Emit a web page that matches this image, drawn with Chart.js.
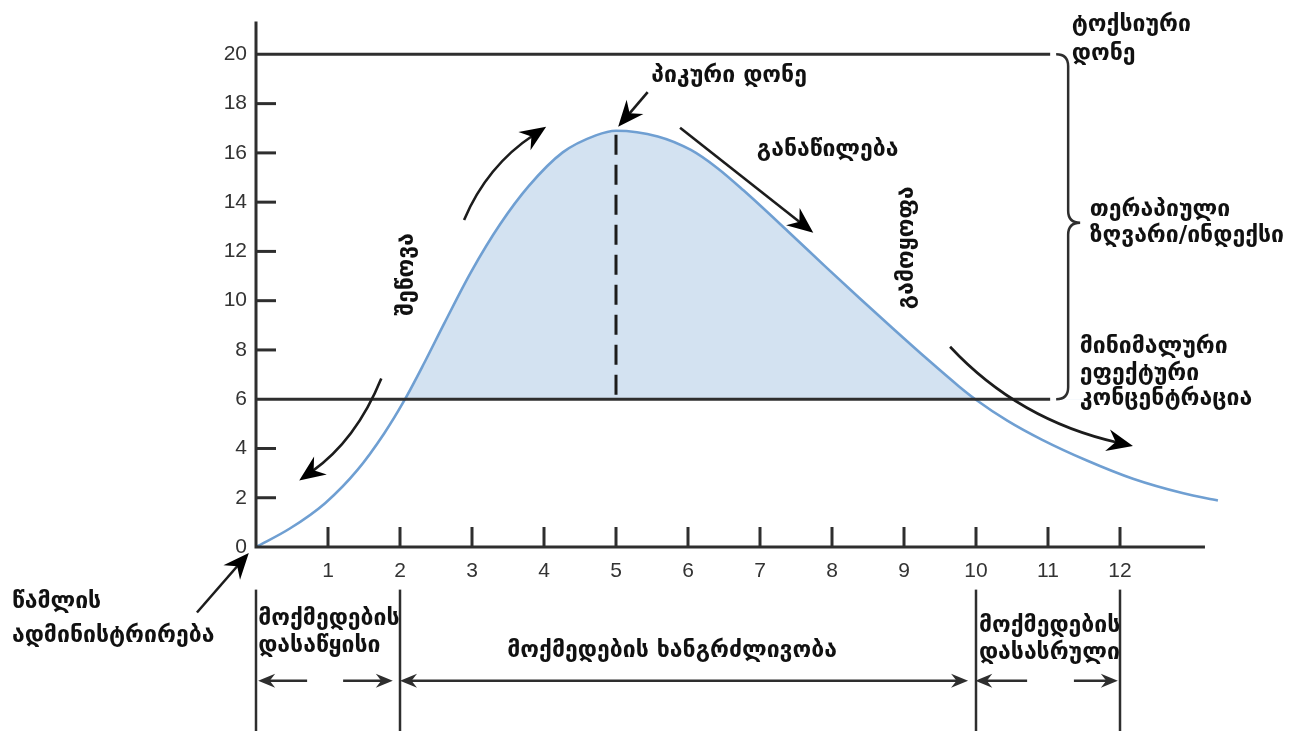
<!DOCTYPE html>
<html>
<head>
<meta charset="utf-8">
<script src="https://cdn.jsdelivr.net/npm/chart.js@4/dist/chart.umd.min.js"></script>
<style>
  html, body { margin: 0; padding: 0; background: #ffffff; }
  #wrap { width: 1300px; height: 731px; }
</style>
</head>
<body>
<div id="wrap"><canvas id="c" width="1300" height="731"></canvas></div>
<script>
// Plasma concentration after a single dose (time in hours)
const timeHours = [0, 0.47, 0.96, 1.41, 1.78, 2.06, 2.34, 2.62, 2.99, 3.39, 3.79, 4.26, 4.72, 5.0,
  5.58, 6.04, 6.41, 6.77, 7.39, 7.92, 8.38, 8.85, 9.31, 9.76, 9.99, 10.44, 10.92, 11.54, 12.18, 12.88, 13.36];
const concentration = [0, 0.75, 1.78, 3.13, 4.61, 5.95, 7.49, 9.11, 11.18, 13.1, 14.66, 16.02, 16.71, 16.9,
  16.67, 16.12, 15.38, 14.48, 12.81, 11.35, 10.11, 8.86, 7.66, 6.53, 6.0, 5.12, 4.35, 3.51, 2.77, 2.18, 1.89];

const concTicks = [0, 2, 4, 6, 8, 10, 12, 14, 16, 18, 20];
const timeTicks = [1, 2, 3, 4, 5, 6, 7, 8, 9, 10, 11, 12];

const toxicLevel = 20;      // ტოქსიური დონე
const mecLevel = 6;         // მინიმალური ეფექტური კონცენტრაცია
const peakTime = 5;
const peakLevel = 16.9;
const onsetStart = 0, onsetEnd = 2, durationEnd = 10, actionEnd = 12;

const INK = '#1c1c1c';
const AXIS = '#2e2e2e';
const GEO_FONT = 'bold 23px "DejaVu Sans"';

// Annotation geometry, in data units of the two axes
const xAxisEnd = 13.18;
const levelLineEnd = 11.03;
const braceX = 11.28;
const braceTip = 13.16;
const bracketTop = -1.73, bracketBottom = -7.6, spanY = -5.43;

const curvedArrows = [
  { s: [1.74, 6.84], c: [1.39, 4.33], e: [0.6, 2.7] },          // შეწოვა, down
  { s: [2.89, 13.28], c: [3.21, 15.48], e: [4.03, 17.06] },     // შეწოვა, up
  { s: [5.44, 18.47], e: [5.03, 17.06] },                       // პიკური დონე
  { s: [5.89, 17.02], e: [7.74, 12.76] },                       // განაწილება
  { s: [9.64, 8.13], c: [10.59, 5.15], e: [12.18, 4.1] },       // გამოყოფა
  { s: [-0.82, -2.66], e: [-0.1, -0.24] }                       // წამლის ადმინისტრირება
];

const spanArrows = [
  { from: 0.71, to: 0.03 },
  { from: 1.21, to: 1.9 },
  { from: 2.0, to: 9.89, both: true },
  { from: 10.71, to: 9.99 },
  { from: 11.36, to: 11.97 }
];

const labels = [
  { t: 'ტოქსიური', x: 11.33, y: 21.2, a: 'left' },
  { t: 'დონე', x: 11.33, y: 20.0, a: 'left' },
  { t: 'პიკური დონე', x: 6.57, y: 19.11, a: 'center' },
  { t: 'განაწილება', x: 7.94, y: 16.1, a: 'center' },
  { t: 'თერაპიული', x: 11.58, y: 13.68, a: 'left' },
  { t: 'ზღვარი/ინდექსი', x: 11.58, y: 12.64, a: 'left' },
  { t: 'მინიმალური', x: 11.44, y: 8.13, a: 'left' },
  { t: 'ეფექტური', x: 11.44, y: 7.04, a: 'left' },
  { t: 'კონცენტრაცია', x: 11.44, y: 6.0, a: 'left' },
  { t: 'შეწოვა', x: 2.1, y: 11.07, a: 'center', rot: true },
  { t: 'გამოყოფა', x: 9.04, y: 12.15, a: 'center', rot: true },
  { t: 'წამლის', x: -3.39, y: -2.25, a: 'left' },
  { t: 'ადმინისტრირება', x: -3.39, y: -3.62, a: 'left' },
  { t: 'მოქმედების', x: 0.03, y: -2.94, a: 'left' },
  { t: 'დასაწყისი', x: 0.03, y: -4.02, a: 'left' },
  { t: 'მოქმედების ხანგრძლივობა', x: 5.78, y: -4.23, a: 'center' },
  { t: 'მოქმედების', x: 10.04, y: -3.22, a: 'left' },
  { t: 'დასასრული', x: 10.04, y: -4.31, a: 'left' }
];

function arrowHead(ctx, tx, ty, ang, len, half) {
  ctx.save();
  ctx.translate(tx, ty);
  ctx.rotate(ang);
  ctx.beginPath();
  ctx.moveTo(0, 0);
  ctx.lineTo(-len, -half);
  ctx.lineTo(-len * 0.68, 0);
  ctx.lineTo(-len, half);
  ctx.closePath();
  ctx.fill();
  ctx.restore();
}

const diagramPlugin = {
  id: 'diagram',
  afterDatasetsDraw(chart) {
    const { ctx, scales: { x, y } } = chart;
    const X = v => x.getPixelForValue(v);
    const Y = v => y.getPixelForValue(v);
    const x0 = X(0), y0 = Y(0);

    ctx.save();
    ctx.lineCap = 'butt';

    // toxic and minimum effective levels
    ctx.strokeStyle = AXIS;
    ctx.lineWidth = 3;
    [toxicLevel, mecLevel].forEach(v => {
      ctx.beginPath();
      ctx.moveTo(x0, Y(v));
      ctx.lineTo(X(levelLineEnd), Y(v));
      ctx.stroke();
    });

    // axes
    ctx.beginPath();
    ctx.moveTo(x0, y.top);
    ctx.lineTo(x0, y0);
    ctx.lineTo(X(xAxisEnd), y0);
    ctx.stroke();

    // inward tick marks
    ctx.lineWidth = 3;
    concTicks.forEach(v => {
      if (v === 0 || v === toxicLevel || v === mecLevel) return;
      ctx.beginPath();
      ctx.moveTo(x0, Y(v));
      ctx.lineTo(x0 + 20, Y(v));
      ctx.stroke();
    });
    timeTicks.forEach(v => {
      ctx.beginPath();
      ctx.moveTo(X(v), y0);
      ctx.lineTo(X(v), y0 - 20);
      ctx.stroke();
    });

    // peak marker
    ctx.strokeStyle = INK;
    ctx.lineWidth = 3;
    ctx.setLineDash([20, 10]);
    ctx.beginPath();
    ctx.moveTo(X(peakTime), Y(peakLevel) + 4);
    ctx.lineTo(X(peakTime), Y(mecLevel));
    ctx.stroke();
    ctx.setLineDash([]);

    // brace spanning the therapeutic window
    const bx = X(braceX), top = Y(toxicLevel), bot = Y(mecLevel), mid = Y(braceTip);
    ctx.strokeStyle = AXIS;
    ctx.lineWidth = 2.5;
    ctx.beginPath();
    ctx.moveTo(bx - 12, top);
    ctx.quadraticCurveTo(bx, top, bx, top + 12);
    ctx.lineTo(bx, mid - 12);
    ctx.quadraticCurveTo(bx, mid, bx + 12, mid);
    ctx.quadraticCurveTo(bx, mid, bx, mid + 12);
    ctx.lineTo(bx, bot - 12);
    ctx.quadraticCurveTo(bx, bot, bx - 12, bot);
    ctx.stroke();

    // process arrows
    ctx.strokeStyle = INK;
    ctx.fillStyle = '#000';
    ctx.lineWidth = 2.6;
    curvedArrows.forEach(a => {
      const sx = X(a.s[0]), sy = Y(a.s[1]), ex = X(a.e[0]), ey = Y(a.e[1]);
      const cx = a.c ? X(a.c[0]) : (sx + ex) / 2, cy = a.c ? Y(a.c[1]) : (sy + ey) / 2;
      const ang = Math.atan2(ey - cy, ex - cx);
      const back = 15;
      const lx = ex - Math.cos(ang) * back, ly = ey - Math.sin(ang) * back;
      ctx.beginPath();
      ctx.moveTo(sx, sy);
      if (a.c) ctx.quadraticCurveTo(cx, cy, lx, ly); else ctx.lineTo(lx, ly);
      ctx.stroke();
      arrowHead(ctx, ex, ey, ang, 26, 11);
    });

    // bracket lines under the time axis
    ctx.strokeStyle = AXIS;
    ctx.lineWidth = 2.5;
    [onsetStart, onsetEnd, durationEnd, actionEnd].forEach(v => {
      ctx.beginPath();
      ctx.moveTo(X(v), Y(bracketTop));
      ctx.lineTo(X(v), Y(bracketBottom));
      ctx.stroke();
    });

    // phase span arrows
    const sy = Y(spanY);
    ctx.fillStyle = AXIS;
    ctx.lineWidth = 2.5;
    spanArrows.forEach(a => {
      const fx = X(a.from), tx = X(a.to);
      const dir = Math.sign(tx - fx);
      ctx.beginPath();
      ctx.moveTo(a.both ? fx + dir * 8 : fx, sy);
      ctx.lineTo(tx - dir * 8, sy);
      ctx.stroke();
      arrowHead(ctx, tx, sy, dir > 0 ? 0 : Math.PI, 17, 7);
      if (a.both) arrowHead(ctx, fx, sy, dir > 0 ? Math.PI : 0, 17, 7);
    });

    // text labels
    ctx.fillStyle = '#111';
    ctx.font = GEO_FONT;
    ctx.textBaseline = 'middle';
    labels.forEach(l => {
      ctx.save();
      ctx.translate(X(l.x), Y(l.y));
      if (l.rot) ctx.rotate(-Math.PI / 2);
      ctx.textAlign = l.a;
      ctx.fillText(l.t, 0, 0);
      ctx.restore();
    });

    ctx.restore();
  }
};

new Chart(document.getElementById('c'), {
  type: 'line',
  data: {
    datasets: [{
      data: timeHours.map((t, i) => ({ x: t, y: concentration[i] })),
      borderColor: '#6f9fd2',
      borderWidth: 2.6,
      pointRadius: 0,
      cubicInterpolationMode: 'monotone',
      clip: false,
      fill: { target: { value: mecLevel }, above: '#d3e2f1', below: 'rgba(0,0,0,0)' }
    }]
  },
  options: {
    responsive: false,
    animation: false,
    events: [],
    layout: { padding: { top: 17, right: 72, left: 0, bottom: 0 } },
    plugins: { legend: { display: false }, tooltip: { enabled: false } },
    scales: {
      x: {
        type: 'linear',
        min: 0,
        max: 13.5,
        afterBuildTicks: s => { s.ticks = timeTicks.map(v => ({ value: v })); },
        afterFit: s => { s.height = 184; },
        grid: { display: false, drawTicks: false },
        border: { display: false },
        ticks: {
          padding: 12,
          color: '#333',
          font: { family: '"Liberation Sans", Arial, sans-serif', size: 21 },
          maxRotation: 0,
          autoSkip: false
        }
      },
      y: {
        type: 'linear',
        min: 0,
        max: 21.33,
        afterBuildTicks: s => { s.ticks = concTicks.map(v => ({ value: v })); },
        afterFit: s => { s.width = 256; },
        grid: { display: false, drawTicks: false },
        border: { display: false },
        ticks: {
          padding: 9,
          color: '#333',
          font: { family: '"Liberation Sans", Arial, sans-serif', size: 21 },
          autoSkip: false
        }
      }
    }
  },
  plugins: [diagramPlugin]
});
</script>
</body>
</html>
